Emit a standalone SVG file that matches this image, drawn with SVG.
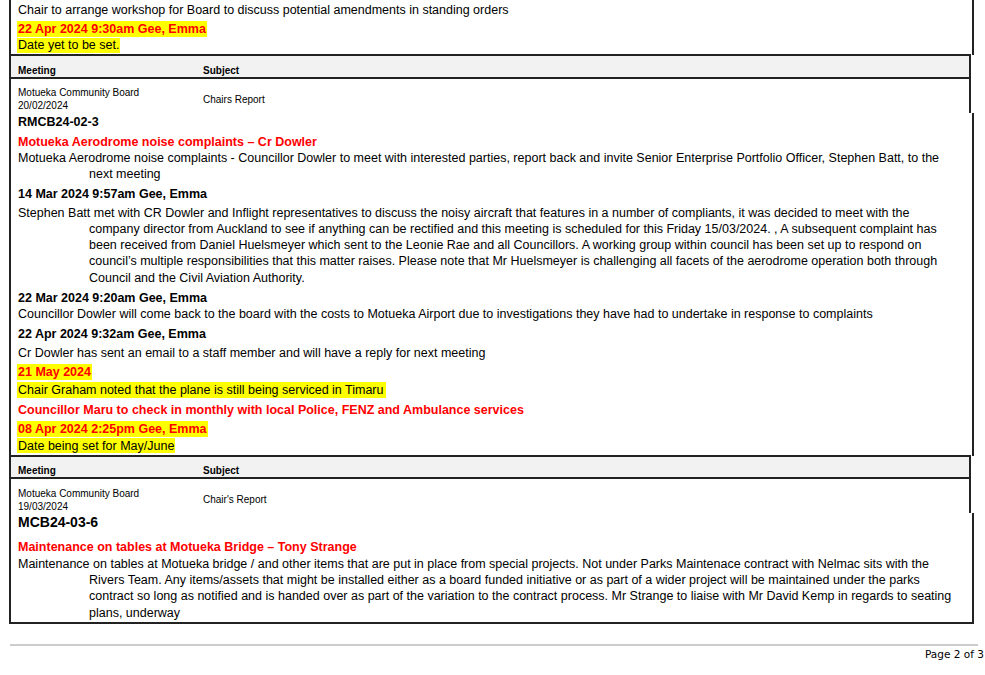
<svg xmlns="http://www.w3.org/2000/svg" width="985" height="675" viewBox="0 0 985 675">
<style>
text{font-family:"Liberation Sans",Arial,sans-serif;font-size:12.5px;fill:#000}
.b{font-weight:bold}
.r{fill:#ff0000;font-weight:bold}
.s{font-size:10px}
.sb{font-size:10px;font-weight:bold}
.hl{fill:#ffff00}
.ln{stroke:#222;stroke-width:2;fill:none}
</style>
<rect width="985" height="675" fill="#fff"/>
<g id="highlights">
<rect class="hl" x="17" y="21" width="190" height="16"/>
<rect class="hl" x="17" y="38" width="103" height="15"/>
<rect class="hl" x="17" y="364" width="75" height="16"/>
<rect class="hl" x="17" y="382" width="369" height="16"/>
<rect class="hl" x="17" y="421" width="191" height="16"/>
<rect class="hl" x="17" y="438" width="158" height="15"/>
</g>
<g id="frame">
<rect x="10" y="55" width="960" height="23" fill="#f2f2f2"/>
<rect x="10" y="456" width="960" height="22" fill="#f2f2f2"/>
<path class="ln" d="M10 0V623H973V513M970 513V456H10M973 456V113M970 113V55H10M973 55V0"/>
<path class="ln" d="M10 78H970M10 478H970"/>
<path d="M10 645H978" stroke="#999" stroke-width="1"/>
</g>
<g id="text">
<text x="18" y="14">Chair to arrange workshop for Board to discuss potential amendments in standing orders</text>
<text class="r" x="18" y="33">22 Apr 2024 9:30am Gee, Emma</text>
<text x="18" y="49">Date yet to be set.</text>
<text class="sb" x="18" y="74">Meeting</text>
<text class="sb" x="203" y="74">Subject</text>
<text class="s" x="18" y="96">Motueka Community Board</text>
<text class="s" x="18" y="109">20/02/2024</text>
<text class="s" x="203" y="103">Chairs Report</text>
<text class="b" x="18" y="126">RMCB24-02-3</text>
<text class="r" x="18" y="146">Motueka Aerodrome noise complaints – Cr Dowler</text>
<text x="18" y="162">Motueka Aerodrome noise complaints - Councillor Dowler to meet with interested parties, report back and invite Senior Enterprise Portfolio Officer, Stephen Batt, to the</text>
<text x="89" y="178">next meeting</text>
<text class="b" x="18" y="198">14 Mar 2024 9:57am Gee, Emma</text>
<text x="18" y="217">Stephen Batt met with CR Dowler and Inflight representatives to discuss the noisy aircraft that features in a number of compliants, it was decided to meet with the</text>
<text x="89" y="233">company director from Auckland to see if anything can be rectified and this meeting is scheduled for this Friday 15/03/2024. , A subsequent complaint has</text>
<text x="89" y="249">been received from Daniel Huelsmeyer which sent to the Leonie Rae and all Councillors. A working group within council has been set up to respond on</text>
<text x="89" y="265">council’s multiple responsibilities that this matter raises. Please note that Mr Huelsmeyer is challenging all facets of the aerodrome operation both through</text>
<text x="89" y="282">Council and the Civil Aviation Authority.</text>
<text class="b" x="18" y="302">22 Mar 2024 9:20am Gee, Emma</text>
<text x="18" y="318">Councillor Dowler will come back to the board with the costs to Motueka Airport due to investigations they have had to undertake in response to complaints</text>
<text class="b" x="18" y="338">22 Apr 2024 9:32am Gee, Emma</text>
<text x="18" y="357">Cr Dowler has sent an email to a staff member and will have a reply for next meeting</text>
<text class="r" x="18" y="376">21 May 2024</text>
<text x="18" y="394">Chair Graham noted that the plane is still being serviced in Timaru</text>
<text class="r" x="18" y="414">Councillor Maru to check in monthly with local Police, FENZ and Ambulance services</text>
<text class="r" x="18" y="433">08 Apr 2024 2:25pm Gee, Emma</text>
<text x="18" y="450">Date being set for May/June</text>
<text class="sb" x="18" y="474">Meeting</text>
<text class="sb" x="203" y="474">Subject</text>
<text class="s" x="18" y="497">Motueka Community Board</text>
<text class="s" x="18" y="510">19/03/2024</text>
<text class="s" x="203" y="503">Chair's Report</text>
<text class="b" x="18" y="527" style="font-size:14px">MCB24-03-6</text>
<text class="r" x="18" y="551">Maintenance on tables at Motueka Bridge – Tony Strange</text>
<text x="18" y="568">Maintenance on tables at Motueka bridge / and other items that are put in place from special projects.  Not under Parks Maintenace contract with Nelmac sits with the</text>
<text x="89" y="584">Rivers Team. Any items/assets that might be installed either as a board funded initiative or as part of a wider project will be maintained under the parks</text>
<text x="89" y="600">contract so long as notified and is handed over as part of the variation to the contract process.  Mr Strange to liaise with Mr David Kemp in regards to seating</text>
<text x="89" y="617">plans, underway</text>
<text x="925" y="658" style="font-family:'DejaVu Sans',sans-serif;font-size:10.5px">Page 2 of 3</text>
</g>
</svg>
